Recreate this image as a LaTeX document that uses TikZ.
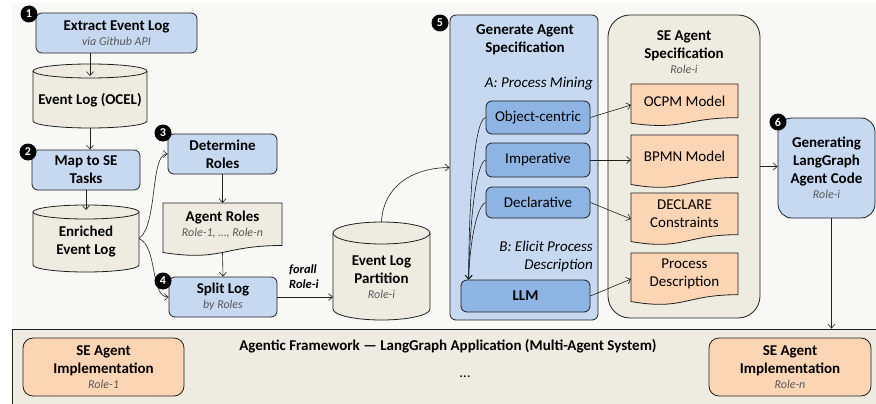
\documentclass[tikz,border=0pt]{standalone}
\usepackage{fontspec}
\setmainfont{Carlito}
\usetikzlibrary{arrows.meta,calc}
\definecolor{lblue}{HTML}{C6D9F1}
\definecolor{mblue}{HTML}{8EB4E3}
\definecolor{beige}{HTML}{EEECE1}
\definecolor{peach}{HTML}{FCD5B5}
\definecolor{bgtop}{HTML}{F8F8F6}
\definecolor{subg}{HTML}{595959}
\definecolor{edge}{HTML}{1F1F1F}
\pgfdeclarelayer{bg}\pgfdeclarelayer{mid}\pgfsetlayers{bg,mid,main}
\newcommand\fmain{\fontsize{15}{18}\selectfont}
\newcommand\fsub{\normalfont\fontsize{12}{13}\selectfont\itshape\color{subg}}
\tikzset{
  box/.style={draw=edge, line width=0.8pt, rounded corners=6pt, fill=lblue, align=center, inner sep=0pt, font=\fmain\bfseries},
  innerbox/.style={box, fill=mblue, font=\fmain},
  badge/.style={circle, fill=black, text=white, inner sep=0pt, minimum size=17pt, font=\fontsize{12}{12}\selectfont\bfseries},
  arr/.style={-{Straight Barb[length=4pt,width=7pt]}, line width=0.6pt, draw=edge},
  ghost/.style={draw=none, fill=none, inner sep=0pt, outer sep=0pt},
  shp/.style={draw=edge, line width=0.8pt},
  txt/.style={align=center, inner sep=0pt, font=\fmain\bfseries},
  txtr/.style={align=center, inner sep=0pt, font=\fmain},
}
% cylinder: name, x1, y1, x2, y2, ry
\newcommand\cyl[6]{%
  \path node[ghost, minimum width={(#4-#2)*1pt}, minimum height={(#5-#3)*1pt}] (#1) at ({(#2+#4)/2},{(#3+#5)/2}) {};
  \begin{pgfonlayer}{mid}
  \draw[shp, fill=beige] (#2,#3+#6) -- (#2,#5-#6) arc[start angle=180,end angle=0,x radius={(#4-#2)/2},y radius=#6] -- (#4,#3+#6) arc[start angle=0,end angle=-180,x radius={(#4-#2)/2},y radius=#6] -- cycle;
  \draw[shp] (#2,#3+#6) arc[start angle=180,end angle=0,x radius={(#4-#2)/2},y radius=#6];
  \end{pgfonlayer}}
% document shape: name, x1, y1, x2, y2, fill
\newcommand\docsh[6]{%
  \path node[ghost, minimum width={(#4-#2)*1pt}, minimum height={(#5-#3)*1pt}] (#1) at ({(#2+#4)/2},{(#3+#5)/2}) {};
  \begin{pgfonlayer}{mid}
  \draw[shp, fill=#6] (#1.north west) -- (#1.north east) -- ($(#1.north east)!0.802!(#1.south east)$) .. controls ($(#1.north)!0.802!(#1.south)$) and ($(#1.north)!1.1075!(#1.south)$) .. ($(#1.north west)!0.934!(#1.south west)$) -- cycle;
  \end{pgfonlayer}}
\begin{document}
\begin{tikzpicture}[x=1pt, y=-1pt]
\useasboundingbox (0,0) rectangle (876,404);
\begin{pgfonlayer}{bg}
  \fill[bgtop] (12,3) rectangle (876,329);
  \node[box, fill=beige, rounded corners=0pt, minimum width=868pt, minimum height=79pt] (band) at (446,368.5) {};
  \node[box, minimum width=148pt, minimum height=305pt] (gen) at (524,167.5) {};
  \node[box, fill=beige, rounded corners=22pt, minimum width=152pt, minimum height=303pt] (spec) at (684,166.5) {};
\end{pgfonlayer}

% left column
\node[box, minimum width=161pt, minimum height=40pt] (extract) at (116.5,33) {Extract Event Log\\[-3pt]{\fsub via Github API}};
\cyl{ocel}{33}{64}{147}{128}{7}
\node[txt] (ocelT) at (90,100) {Event Log (OCEL)};
\node[box, minimum width=108pt, minimum height=40pt] (map) at (86,170) {Map to SE\\Tasks};
\cyl{enr}{33}{205}{139}{272}{7}
\node[txt] (enrT) at (86,242) {Enriched\\Event Log};

\node[box, minimum width=109pt, minimum height=40pt] (det) at (222.5,154) {Determine\\Roles};
\docsh{roles}{163}{203}{282}{256}{beige}
\node[txt] (rolesT) at (222.5,225) {Agent Roles\\[-3pt]{\fsub Role-1, …, Role-n}};
\node[box, minimum width=108pt, minimum height=40pt] (split) at (223,297) {Split Log\\[-3pt]{\fsub by Roles}};

\node[txt, anchor=west, align=left, font=\fontsize{12.5}{15}\selectfont\bfseries\itshape] (forall) at (289,277) {forall\\Role-i};
\cyl{part}{333}{222}{430}{320}{11}
\node[txt] (partT) at (381.5,277) {Event Log\\Partition\\[-3pt]{\fsub Role-i}};

% generate agent specification
\node[txt] (genT) at (525,39.5) {Generate Agent\\Specification};
\node[txtr, anchor=east, font=\fmain\itshape] (labA) at (593,84) {A: Process Mining};
\node[innerbox, minimum width=104pt, minimum height=33pt] (objc) at (538,117.5) {Object-centric};
\node[innerbox, minimum width=104pt, minimum height=34pt] (imper) at (538,160) {Imperative};
\node[innerbox, minimum width=104pt, minimum height=31pt] (decl) at (538,202.5) {Declarative};
\node[txtr, anchor=east, align=right, font=\fmain\itshape] (labB) at (593,256) {B: Elicit Process\\Description};
\node[box, fill=mblue, minimum width=129pt, minimum height=32pt] (llm) at (525.5,296) {LLM};

% SE agent specification
\node[txt] (specT) at (684,52) {SE Agent\\Specification\\[-3pt]{\fsub Role-i}};
\docsh{ocpm}{631}{84}{738}{126}{peach}
\node[txtr] (ocpmT) at (684.5,101) {OCPM Model};
\docsh{bpmn}{631}{135}{738}{188}{peach}
\node[txtr] (bpmnT) at (684.5,156) {BPMN Model};
\docsh{dcl}{631}{193}{738}{245}{peach}
\node[txtr] (dclT) at (684.5,214) {DECLARE\\Constraints};
\docsh{proc}{631}{253}{738}{305}{peach}
\node[txtr] (procT) at (684.5,273.5) {Process\\Description};

\node[box, rounded corners=14pt, minimum width=97pt, minimum height=100pt] (gencode) at (826.5,168) {Generating\\LangGraph\\Agent Code\\[-3pt]{\fsub Role-i}};

% bottom band
\node[txt] (bandT) at (448,346) {Agentic Framework — LangGraph Application (Multi-Agent System)};
\node[txtr] (dots) at (465,377) {\dots};
\node[box, fill=peach, rounded corners=10pt, minimum width=161pt, minimum height=58pt] (impl1) at (103.5,367) {SE Agent\\Implementation\\[-3pt]{\fsub Role-1}};
\node[box, fill=peach, rounded corners=10pt, minimum width=162pt, minimum height=58pt] (impln) at (790,367) {SE Agent\\Implementation\\[-3pt]{\fsub Role-n}};

% connectors
\draw[arr] (extract.south -| ocel.center) -- ($(ocel.north)+(0,12)$);
\draw[arr] (ocel.south) -- (ocel.south |- map.north);
\draw[arr] (map.south) -- ($(enr.north)+(0,5)$);
\draw[arr] (enr.east) .. controls (158,225) and (150,154) .. (det.west);
\draw[arr] (enr.east) .. controls (158,247) and (150,297) .. (split.west);
\draw[arr] (det.south) -- (roles.north);
\draw[arr] ($(roles.north)!0.933!(roles.south)$) -- (split.north);
\draw[arr] (split.east) -- (split.east -| part.west);
\draw[arr] (part.north) .. controls (383,188) and (410,168) .. (gen.west);
\coordinate (llmin) at ($(llm.north west)+(8,0)$);
\draw[arr] (objc.west) .. controls (474,120) and (469,200) .. (llmin);
\draw[arr] (imper.west) .. controls (476,163) and (470,220) .. (llmin);
\draw[arr] (decl.west) .. controls (477,206) and (470,240) .. (llmin);
\draw[arr] (objc.east) -- (ocpm.west);
\draw[arr] (imper.east) -- (imper.east -| bpmn.west);
\draw[arr] (decl.east) -- (dcl.west);
\draw[arr] (llm.east) -- (proc.west);
\draw[arr] (spec.east) -- (spec.east -| gencode.west);
\draw[arr] ([xshift=5pt]gencode.south) -- ([xshift=5pt]gencode.south |- band.north);

% badges
\node[badge] (b1) at (29,14) {1};
\node[badge] (b2) at (28,152) {2};
\node[badge] (b3) at (163,133) {3};
\node[badge] (b4) at (163,281) {4};
\node[badge] (b5) at (440,23) {5};
\node[badge] (b6) at (778,122) {6};
\end{tikzpicture}
\end{document}
